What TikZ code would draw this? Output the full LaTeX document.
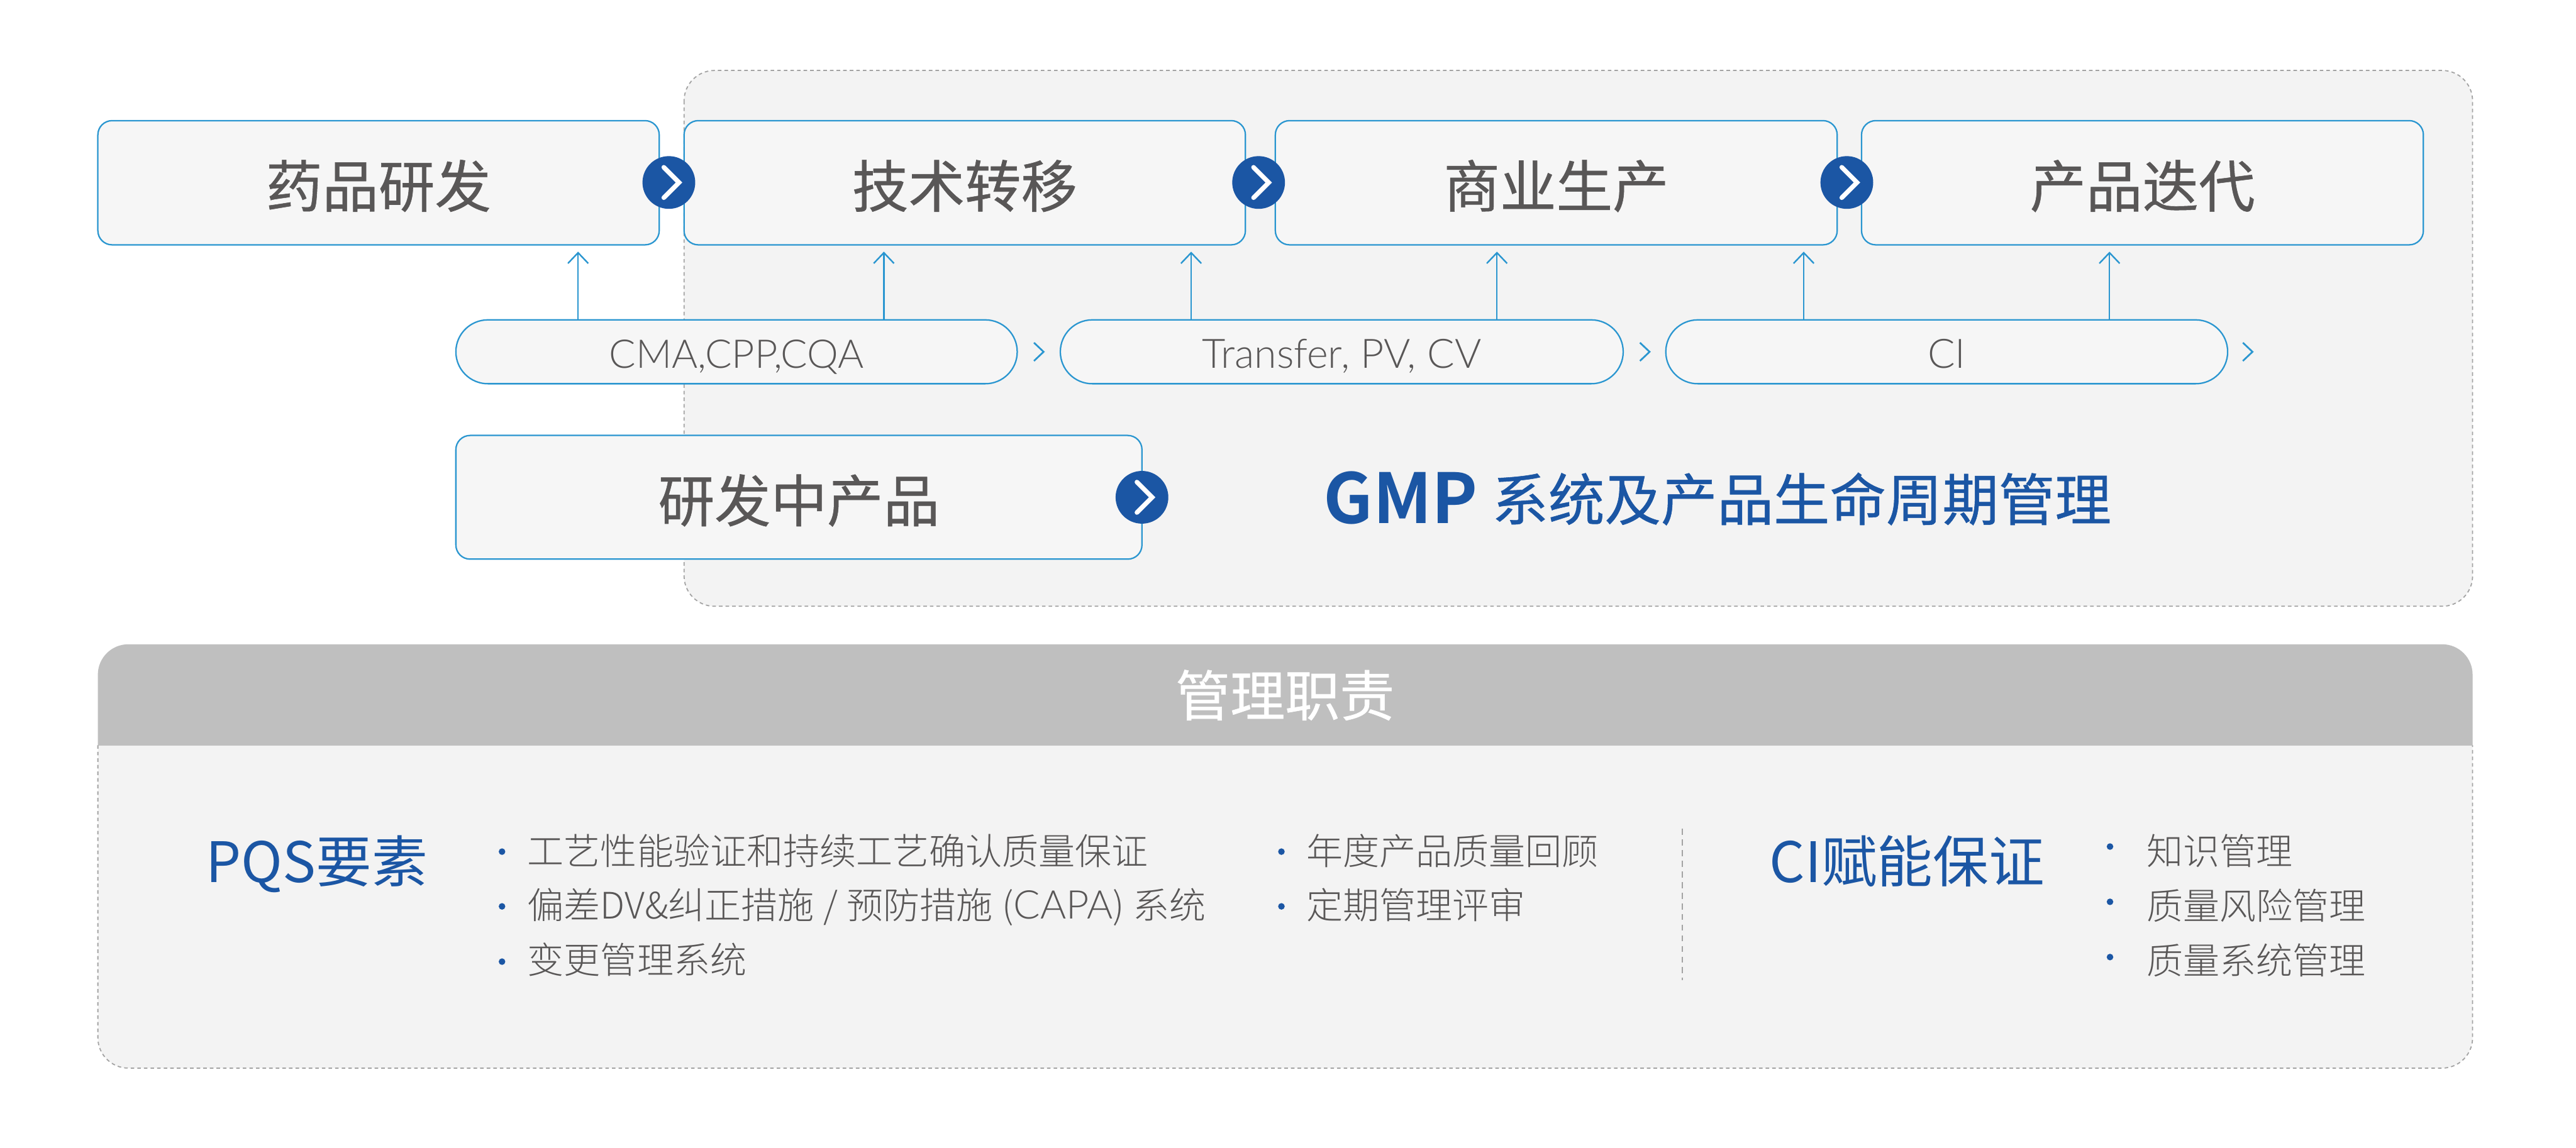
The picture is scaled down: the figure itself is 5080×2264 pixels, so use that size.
\documentclass[tikz,border=0pt]{standalone}
\usepackage{fontspec}
\usetikzlibrary{arrows.meta}
\newfontfamily\cjk{Noto Sans CJK SC}[BoldFont={Noto Sans CJK SC Bold}]
\newfontfamily\cjkm{Noto Sans CJK SC}[FakeBold=0.6]
\newfontfamily\cjkl{Noto Sans CJK SC Light}
\newfontfamily\lat{Lato Light}
\definecolor{dblue}{HTML}{1B56A4}
\definecolor{cyanl}{HTML}{2A96D0}
\definecolor{boxf}{HTML}{F6F6F6}
\definecolor{panelf}{HTML}{F3F3F3}
\definecolor{txt}{HTML}{595757}
\definecolor{band}{HTML}{BFBFBF}
\definecolor{dashc}{HTML}{A3A3A3}
\tikzset{
  stagebox/.style={draw=cyanl,fill=boxf,line width=1.4pt,rounded corners=14pt,inner sep=0pt,text=txt,
    font=\cjkm\fontsize{55.5pt}{55.5pt}\selectfont,text height=51.65pt,text depth=3.35pt},
  pillbox/.style={draw=cyanl,fill=boxf,line width=1.4pt,rounded corners=31.5pt,inner sep=0pt,text=txt,
    font=\lat\fontsize{40pt}{40pt}\selectfont,text height=32pt,text depth=0pt},
  round badge/.style={circle,fill=dblue,minimum size=52pt,inner sep=0pt},
  chevw/.style={draw=white,line width=4.5pt,line cap=round,line join=miter},
  chevs/.style={draw=cyanl,line width=1.7pt},
  uparrow/.style={draw=cyanl,line width=1.5pt,-{Straight Barb[length=10.5pt,width=20pt,line width=1.5pt]},shorten >=6pt},
  dashline/.style={draw=dashc,line width=1.1pt,dash pattern=on 3.5pt off 3pt},
  divline/.style={draw=dashc,line width=1.1pt,dash pattern=on 6pt off 4.5pt},
  listtext/.style={anchor=west,inner sep=0pt,text=txt,font=\cjkl\fontsize{36pt}{36pt}\selectfont,text height=31.7pt,text depth=4.3pt},
  dotmark/.style={circle,fill=dblue,minimum size=6.5pt,inner sep=0pt},
  headtext/.style={anchor=west,inner sep=0pt,text=dblue,font=\cjk\fontsize{55pt}{55pt}\selectfont,text height=47.4pt,text depth=7.6pt},
}
\newcommand\whitechev[1]{\draw[chevw] ([shift={(-10,-30)}]#1.center) -- ([shift={(20,0)}]#1.center) -- ([shift={(-10,30)}]#1.center);}
\newcommand\smallchev[1]{\draw[chevs] ([shift={(-9,-18)}]#1) -- ([shift={(10,0)}]#1) -- ([shift={(-9,18)}]#1);}
\begin{document}
\begin{tikzpicture}[x=0.5pt,y=-0.5pt]
\useasboundingbox (0,0) rectangle (5080,2264);
\fill[white] (0,0) rectangle (5080,2264);
% GMP region
\path[fill=panelf,dashline,rounded corners=30pt] (1349,139) rectangle (4876,1196);
% lower panel
\path[fill=panelf,rounded corners=30pt] (193,1271) rectangle (4876,2107);
\begin{scope}
\clip (193,1271) rectangle (4876,1470);
\fill[band,rounded corners=30pt] (193,1271) rectangle (4876,1700);
\end{scope}
\draw[dashline,rounded corners=30pt] (193,1470) -- (193,2107) -- (4876,2107) -- (4876,1470);
\node[inner sep=0pt,text=white,font=\cjkm\fontsize{54pt}{54pt}\selectfont,text height=48.25pt,text depth=6.75pt] (head) at (2534,1371) {管理职责};
% stage boxes
\node[stagebox,minimum width=553.5pt,minimum height=122.5pt] (d1) at (746.5,360.5) {药品研发};
\node[stagebox,minimum width=553.5pt,minimum height=122.5pt] (d2) at (1902.5,360.5) {技术转移};
\node[stagebox,minimum width=554pt,minimum height=122.5pt] (d3) at (3069,360.5) {商业生产};
\node[stagebox,minimum width=554pt,minimum height=122.5pt] (d4) at (4225,360.5) {产品迭代};
\node[stagebox,minimum width=676.5pt,minimum height=122pt] (d5) at (1575.5,981) {研发中产品};
% pills
\node[pillbox,minimum width=553.5pt,minimum height=63pt,font=\lat\fontsize{39pt}{39pt}\selectfont] (p1) at (1452.5,694) {CMA,CPP,CQA};
\node[pillbox,minimum width=555pt,minimum height=63pt] (p2) at (2646,694) {Transfer, PV, CV};
\node[pillbox,minimum width=554pt,minimum height=63pt] (p3) at (3839,694) {CI};
% small chevrons
\coordinate (s1) at (2048,694);
\coordinate (s2) at (3243,694);
\coordinate (s3) at (4432,694);
\smallchev{s1}\smallchev{s2}\smallchev{s3}
% arrows
\coordinate (a1) at (1140,631);
\coordinate (a2) at (1743,631);
\coordinate (a3) at (2349,631);
\coordinate (a4) at (2952,631);
\coordinate (a5) at (3557,631);
\coordinate (a6) at (4160,631);
\draw[uparrow] (a1) -- (a1 |- d1.south);
\draw[uparrow] (a2) -- (a2 |- d2.south);
\draw[uparrow] (a3) -- (a3 |- d2.south);
\draw[uparrow] (a4) -- (a4 |- d3.south);
\draw[uparrow] (a5) -- (a5 |- d3.south);
\draw[uparrow] (a6) -- (a6 |- d4.south);
% badges
\node[round badge] (c1) at (1319,360) {};
\node[round badge] (c2) at (2482,360) {};
\node[round badge] (c3) at (3642,360) {};
\node[round badge] (c4) at (2252,981) {};
\whitechev{c1}\whitechev{c2}\whitechev{c3}\whitechev{c4}
% title
\node[anchor=base west,inner sep=0pt,text=dblue,font=\cjk\bfseries\fontsize{68pt}{68pt}\selectfont] (t1) at (2610,1033) {GMP};
\node[headtext,font=\cjkm\fontsize{55.5pt}{55.5pt}\selectfont] (t2) at (2942,987) {系统及产品生命周期管理};
% PQS
\node[headtext] (pqs) at (406,1701) {PQS要素};
\node[listtext] (la) at (1040,1678) {工艺性能验证和持续工艺确认质量保证};
\node[listtext] (lb) at (1040,1785) {偏差DV\&纠正措施\hspace{1pt} / \hspace{1pt}预防措施\hspace{1pt} ({\lat\fontsize{39pt}{39pt}\selectfont CAPA}) 系统};
\node[listtext] (lc) at (1040,1893) {变更管理系统};
\node[dotmark] (ma) at (990,1680) {};
\node[dotmark] (mb) at (990,1788) {};
\node[dotmark] (mc) at (990,1897) {};
\node[listtext] (ld) at (2576,1678) {年度产品质量回顾};
\node[listtext] (le) at (2576,1785) {定期管理评审};
\node[dotmark] (md) at (2527,1680) {};
\node[dotmark] (me) at (2527,1788) {};
\coordinate (v1) at (3318,1635);
\coordinate (v2) at (3318,1933);
\draw[divline] (v1) -- (v2);
\node[headtext] (ci) at (3489,1701) {CI赋能保证};
\node[listtext] (lf) at (4233,1679) {知识管理};
\node[listtext] (lg) at (4233,1786) {质量风险管理};
\node[listtext] (lh) at (4233,1894) {质量系统管理};
\node[dotmark] (mf) at (4161,1670) {};
\node[dotmark] (mg) at (4161,1779) {};
\node[dotmark] (mh) at (4161,1888) {};
\end{tikzpicture}
\end{document}
